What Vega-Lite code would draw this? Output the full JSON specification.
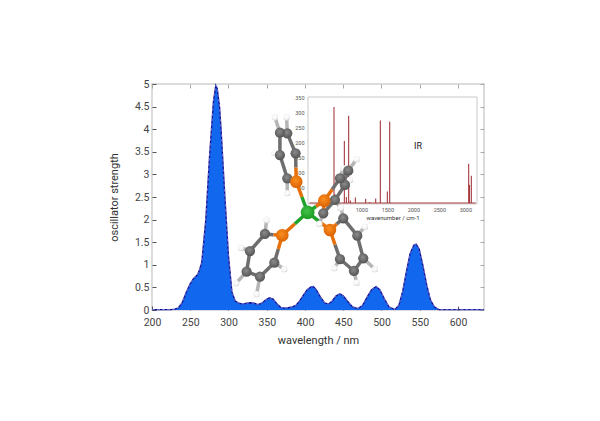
{
"$schema":"https://vega.github.io/schema/vega-lite/v6.json",
"autosize":{"type":"none"},
"padding":{"left":152,"top":84,"right":116,"bottom":111},
"width":332,"height":226,
"background":"white",
"view":{"stroke":"#cfcfcf","strokeWidth":1.5},
"config":{"axis":{"labelFont":"Roboto","titleFont":"Roboto","labelColor":"#444","titleColor":"#333","titleFontWeight":"normal","grid":false,"labelFlush":false}},
"datasets":{
"uv":[{"w":200,"s":0.01},{"w":224.7,"s":0.01},{"w":229.7,"s":0.02},{"w":234.6,"s":0.05},{"w":239.6,"s":0.17},{"w":244.5,"s":0.38},{"w":249.5,"s":0.57},{"w":254.4,"s":0.7},{"w":259.4,"s":0.78},{"w":261.3,"s":0.85},{"w":265,"s":1.05},{"w":270.3,"s":2.0},{"w":275.2,"s":3.4},{"w":280.2,"s":4.6},{"w":283.3,"s":4.97},{"w":285.3,"s":4.9},{"w":288.3,"s":4.5},{"w":290.3,"s":4.0},{"w":295,"s":2.6},{"w":300,"s":1.2},{"w":304.5,"s":0.4},{"w":308.8,"s":0.2},{"w":313.8,"s":0.15},{"w":318.7,"s":0.13},{"w":323.7,"s":0.15},{"w":328.6,"s":0.16},{"w":333.6,"s":0.15},{"w":338.5,"s":0.12},{"w":343.5,"s":0.15},{"w":348.4,"s":0.22},{"w":353.4,"s":0.27},{"w":358.3,"s":0.24},{"w":363.3,"s":0.14},{"w":368.2,"s":0.06},{"w":373.2,"s":0.04},{"w":378.1,"s":0.05},{"w":383.1,"s":0.07},{"w":388,"s":0.1},{"w":393,"s":0.2},{"w":397.9,"s":0.33},{"w":402.8,"s":0.45},{"w":407.8,"s":0.51},{"w":410.8,"s":0.52},{"w":414.7,"s":0.45},{"w":419.7,"s":0.3},{"w":425.6,"s":0.16},{"w":430.6,"s":0.13},{"w":435.5,"s":0.2},{"w":440.4,"s":0.31},{"w":445.4,"s":0.36},{"w":450.3,"s":0.31},{"w":455.3,"s":0.2},{"w":462.2,"s":0.07},{"w":469.1,"s":0.03},{"w":475.1,"s":0.1},{"w":481,"s":0.28},{"w":487,"s":0.45},{"w":492.9,"s":0.52},{"w":497.8,"s":0.45},{"w":503.8,"s":0.25},{"w":509.7,"s":0.07},{"w":517.6,"s":0.01},{"w":522.6,"s":0.1},{"w":527.5,"s":0.4},{"w":532.5,"s":0.85},{"w":537.4,"s":1.25},{"w":542.4,"s":1.44},{"w":545.3,"s":1.46},{"w":549.3,"s":1.35},{"w":554.2,"s":0.98},{"w":559.2,"s":0.55},{"w":564.1,"s":0.22},{"w":569.1,"s":0.07},{"w":575,"s":0.01},{"w":595.8,"s":0.01},{"w":634,"s":0.01}],
"ir":[{"n":474,"i":317},{"n":490,"i":30},{"n":673,"i":205},{"n":712,"i":20},{"n":756,"i":288},{"n":790,"i":8},{"n":885,"i":18},{"n":1083,"i":14},{"n":1160,"i":3},{"n":1276,"i":15},{"n":1365,"i":272},{"n":1500,"i":38},{"n":1545,"i":268},{"n":3064,"i":130},{"n":3080,"i":60},{"n":3115,"i":90}],
"irbase":[{"n":0,"n2":3200,"i":0}],
"frame":[{"n":-26,"n2":3224,"i":-3,"i2":350}],
"irlabel":[{"n":2090,"i":189,"t":"IR"}],
"bonds":[
{"x":378.7,"y":2.913,"x2":369,"y2":3.429,"k":"C"},{"x":369,"y":3.429,"x2":369,"y2":3.924,"k":"C"},{"x":369,"y":3.924,"x2":378.7,"y2":3.909,"k":"C"},{"x":378.7,"y":3.909,"x2":389.7,"y2":3.466,"k":"C"},
{"x":384.6,"y":2.876,"x2":378.7,"y2":2.913,"k":"C"},{"x":390.1,"y":3.15,"x2":389.7,"y2":3.466,"k":"C"},
{"x":390.6,"y":2.839,"x2":384.6,"y2":2.876,"k":"P"},{"x":390.6,"y":2.839,"x2":390.1,"y2":3.15,"k":"P"},
{"x":349.2,"y":1.682,"x2":329.4,"y2":1.305,"k":"C"},{"x":329.4,"y":1.305,"x2":325,"y2":0.848,"k":"C"},{"x":325,"y":0.848,"x2":342.6,"y2":0.737,"k":"C"},{"x":342.6,"y":0.737,"x2":361.6,"y2":1.047,"k":"C"},
{"x":360.6,"y":1.667,"x2":349.2,"y2":1.682,"k":"C"},{"x":366.9,"y":1.35,"x2":361.6,"y2":1.047,"k":"C"},
{"x":372.1,"y":1.652,"x2":360.6,"y2":1.667,"k":"P"},{"x":372.1,"y":1.652,"x2":366.9,"y2":1.35,"k":"P"},
{"x":452.7,"y":2.028,"x2":471.2,"y2":1.645,"k":"C"},{"x":471.2,"y":1.645,"x2":479.1,"y2":1.143,"k":"C"},{"x":479.1,"y":1.143,"x2":466.8,"y2":0.863,"k":"C"},{"x":466.8,"y":0.863,"x2":448.3,"y2":1.128,"k":"C"},
{"x":443.9,"y":1.9,"x2":452.7,"y2":2.028,"k":"C"},{"x":441.7,"y":1.45,"x2":448.3,"y2":1.128,"k":"C"},
{"x":435.1,"y":1.77,"x2":443.9,"y2":1.9,"k":"P"},{"x":435.1,"y":1.77,"x2":441.7,"y2":1.45,"k":"P"},
{"x":448.3,"y":2.913,"x2":459.3,"y2":3.083,"k":"C"},{"x":459.3,"y":3.083,"x2":454.9,"y2":2.766,"k":"C"},{"x":454.9,"y":2.766,"x2":441.7,"y2":2.434,"k":"C"},{"x":441.7,"y":2.434,"x2":426.3,"y2":2.139,"k":"C"},
{"x":438,"y":2.666,"x2":448.3,"y2":2.913,"k":"C"},
{"x":427.6,"y":2.419,"x2":438,"y2":2.666,"k":"P"},{"x":427.6,"y":2.419,"x2":426.3,"y2":2.139,"k":"P"},
{"x":390.6,"y":2.839,"x2":398.1,"y2":2.5,"k":"P"},{"x":398.1,"y":2.5,"x2":405.6,"y2":2.161,"k":"Ir"},
{"x":427.6,"y":2.419,"x2":416.6,"y2":2.29,"k":"P"},{"x":416.6,"y":2.29,"x2":405.6,"y2":2.161,"k":"Ir"},
{"x":372.1,"y":1.652,"x2":388.85,"y2":1.907,"k":"P"},{"x":388.85,"y":1.907,"x2":405.6,"y2":2.161,"k":"Ir"},
{"x":435.1,"y":1.77,"x2":420.35,"y2":1.965,"k":"P"},{"x":420.35,"y":1.965,"x2":405.6,"y2":2.161,"k":"Ir"},
{"x":369,"y":3.924,"x2":362.4,"y2":4.263,"k":"H"},{"x":378.7,"y":3.909,"x2":377.9,"y2":4.263,"k":"H"},{"x":369,"y":3.429,"x2":361.6,"y2":3.481,"k":"H"},{"x":378.7,"y":2.913,"x2":378.7,"y2":2.581,"k":"H"},
{"x":349.2,"y":1.682,"x2":351.4,"y2":1.991,"k":"H"},{"x":329.4,"y":1.305,"x2":317.5,"y2":1.379,"k":"H"},{"x":325,"y":0.848,"x2":310.9,"y2":0.59,"k":"H"},{"x":342.6,"y":0.737,"x2":338.2,"y2":0.347,"k":"H"},{"x":361.6,"y":1.047,"x2":374.8,"y2":0.9,"k":"H"},
{"x":452.7,"y":2.028,"x2":449.6,"y2":2.264,"k":"H"},{"x":471.2,"y":1.645,"x2":481.3,"y2":1.844,"k":"H"},{"x":479.1,"y":1.143,"x2":494.5,"y2":0.9,"k":"H"},{"x":466.8,"y":0.863,"x2":470.3,"y2":0.605,"k":"H"},{"x":448.3,"y":1.128,"x2":440.8,"y2":0.922,"k":"H"},
{"x":459.3,"y":3.083,"x2":470.3,"y2":3.334,"k":"H"},{"x":448.3,"y":2.913,"x2":452.7,"y2":3.134,"k":"H"},{"x":454.9,"y":2.766,"x2":461.5,"y2":2.876,"k":"H"},{"x":441.7,"y":2.434,"x2":449.2,"y2":2.249,"k":"H"},{"x":426.3,"y":2.139,"x2":421,"y2":1.903,"k":"H"}
],
"atoms":[
{"x":421,"y":1.903,"k":"H"},{"x":449.2,"y":2.249,"k":"H"},{"x":452.7,"y":3.134,"k":"H"},{"x":461.5,"y":2.876,"k":"H"},{"x":470.3,"y":3.334,"k":"H"},
{"x":362.4,"y":4.263,"k":"H"},{"x":377.9,"y":4.263,"k":"H"},{"x":361.6,"y":3.481,"k":"H"},{"x":378.7,"y":2.581,"k":"H"},
{"x":351.4,"y":1.991,"k":"H"},{"x":317.5,"y":1.379,"k":"H"},{"x":310.9,"y":0.59,"k":"H"},{"x":338.2,"y":0.347,"k":"H"},{"x":374.8,"y":0.9,"k":"H"},
{"x":449.6,"y":2.264,"k":"H"},{"x":481.3,"y":1.844,"k":"H"},{"x":494.5,"y":0.9,"k":"H"},{"x":470.3,"y":0.605,"k":"H"},{"x":440.8,"y":0.922,"k":"H"},
{"x":426.3,"y":2.139,"k":"C"},{"x":441.7,"y":2.434,"k":"C"},{"x":454.9,"y":2.766,"k":"C"},{"x":459.3,"y":3.083,"k":"C"},{"x":448.3,"y":2.913,"k":"C"},
{"x":378.7,"y":3.909,"k":"C"},{"x":389.7,"y":3.466,"k":"C"},{"x":369,"y":3.924,"k":"C"},{"x":369,"y":3.429,"k":"C"},{"x":378.7,"y":2.913,"k":"C"},
{"x":349.2,"y":1.682,"k":"C"},{"x":329.4,"y":1.305,"k":"C"},{"x":325,"y":0.848,"k":"C"},{"x":342.6,"y":0.737,"k":"C"},{"x":361.6,"y":1.047,"k":"C"},
{"x":452.7,"y":2.028,"k":"C"},{"x":471.2,"y":1.645,"k":"C"},{"x":479.1,"y":1.143,"k":"C"},{"x":466.8,"y":0.863,"k":"C"},{"x":448.3,"y":1.128,"k":"C"},
{"x":427.6,"y":2.419,"k":"P"},{"x":390.6,"y":2.839,"k":"P"},{"x":372.1,"y":1.652,"k":"P"},{"x":435.1,"y":1.77,"k":"P"},
{"x":405.6,"y":2.161,"k":"Ir"}
]
},
"data":{"name":"uv"},
"encoding":{
"x":{"field":"w","type":"quantitative","scale":{"domain":[200,634],"nice":false},"axis":null},
"y":{"field":"s","type":"quantitative","scale":{"domain":[0,5],"nice":false},"axis":null}
},
"layer":[
{"mark":{"type":"area","color":"#1168ee"},
 "encoding":{
 "x":{"field":"w","type":"quantitative","scale":{"domain":[200,634],"nice":false},"axis":{"orient":"bottom","values":[200,250,300,350,400,450,500,550,600],"tickSize":-4,"tickColor":"#555","domain":false,"labelFontSize":10.5,"labelPadding":11,"title":"wavelength / nm","titleFontSize":11,"titleFontWeight":"normal","titlePadding":7}},
 "y":{"field":"s","type":"quantitative","scale":{"domain":[0,5],"nice":false},"axis":{"orient":"left","values":[0,0.5,1,1.5,2,2.5,3,3.5,4,4.5,5],"format":"~g","tickSize":-4,"tickColor":"#555","domain":false,"labelFontSize":10.5,"labelPadding":7,"title":"oscillator strength","titleFontSize":11,"titleFontWeight":"normal","titlePadding":15}}
 }},
{"mark":{"type":"line","color":"#0a0a9a","strokeWidth":1.3},
 "encoding":{
 "x":{"field":"w","type":"quantitative","scale":{"domain":[200,634],"nice":false},"axis":{"orient":"top","values":[200,250,300,350,400,450,500,550,600],"tickSize":-4,"tickColor":"#aaa","domain":false,"labels":false,"title":null}},
 "y":{"field":"s","type":"quantitative","scale":{"domain":[0,5],"nice":false},"axis":{"orient":"right","values":[0,0.5,1,1.5,2,2.5,3,3.5,4,4.5,5],"tickSize":-4,"tickColor":"#aaa","domain":false,"labels":false,"title":null}}
 }},
{"mark":{"type":"line","color":"white","strokeWidth":0.5,"strokeDash":[3,2],"opacity":0.8}},
{"data":{"name":"frame"},"mark":{"type":"rect","fill":"white","stroke":"#bbbbbb","strokeWidth":0.8},
 "encoding":{
 "x":{"field":"n","type":"quantitative","scale":{"domain":[-26,3224],"nice":false,"range":[156,325]},"axis":null},
 "x2":{"field":"n2"},
 "y":{"field":"i","type":"quantitative","scale":{"domain":[0,350],"nice":false,"range":[119,13]},"axis":null},
 "y2":{"field":"i2"}
 }},
{"data":{"name":"ir"},"mark":{"type":"rule","color":"#a5393f","strokeWidth":1.1},
 "encoding":{
 "x":{"field":"n","type":"quantitative","scale":{"domain":[-26,3224],"nice":false,"range":[156,325]},"axis":{"orient":"bottom","offset":-106,"values":[1000,1500,2000,2500,3000],"format":"d","domain":false,"tickSize":0,"labelFontSize":5.5,"labelPadding":3,"labelColor":"#555","title":"wavenumber / cm-1","titleFontSize":6,"titleFontWeight":"normal","titlePadding":2}},
 "y":{"field":"i","type":"quantitative","scale":{"domain":[0,350],"nice":false,"range":[119,13]},"axis":{"orient":"left","offset":-155,"values":[50,100,150,200,250,300,350],"domain":false,"tickSize":0,"labelFontSize":5.5,"labelPadding":3,"labelColor":"#555","title":null}},
 "y2":{"datum":0}
 }},
{"data":{"name":"irbase"},"mark":{"type":"rule","color":"#a5393f","strokeWidth":1},
 "encoding":{
 "x":{"field":"n","type":"quantitative","scale":{"domain":[-26,3224],"nice":false,"range":[156,325]},"axis":null},
 "x2":{"field":"n2"},
 "y":{"field":"i","type":"quantitative","scale":{"domain":[0,350],"nice":false,"range":[119,13]},"axis":null}
 }},
{"data":{"name":"irlabel"},"mark":{"type":"text","font":"Roboto","fontSize":9,"color":"#222"},
 "encoding":{
 "x":{"field":"n","type":"quantitative","scale":{"domain":[-26,3224],"nice":false,"range":[156,325]},"axis":null},
 "y":{"field":"i","type":"quantitative","scale":{"domain":[0,350],"nice":false,"range":[119,13]},"axis":null},
 "text":{"field":"t"}
 }},
{"data":{"name":"bonds"},"mark":{"type":"rule","strokeWidth":3.5},
 "encoding":{
 "x":{"field":"x","type":"quantitative","scale":{"domain":[200,638.6],"nice":false},"axis":null},
 "x2":{"field":"x2"},
 "y":{"field":"y","type":"quantitative","scale":{"domain":[0,5],"nice":false},"axis":null},
 "y2":{"field":"y2"},
 "color":{"field":"k","type":"nominal","legend":null,"scale":{"domain":["C","H","P","Ir"],"range":["#6e6e6e","#b5b5b5","#e8700a","#1fa32a"]}}
 }},
{"data":{"name":"atoms"},"transform":[{"filter":"datum.k=='H'"}],"mark":{"type":"point","filled":true,"opacity":1,"size":42,"fill":{"gradient":"radial","x1":0.45,"y1":0.4,"x2":0.45,"y2":0.4,"r1":0,"r2":0.65,"stops":[{"offset":0,"color":"#ffffff"},{"offset":0.7,"color":"#f2f2f2"},{"offset":1,"color":"#bdbdbd"}]}},
 "encoding":{"x":{"field":"x","type":"quantitative","scale":{"domain":[200,638.6],"nice":false},"axis":null},"y":{"field":"y","type":"quantitative","scale":{"domain":[0,5],"nice":false},"axis":null}}},
{"data":{"name":"atoms"},"transform":[{"filter":"datum.k=='C'"}],"mark":{"type":"point","filled":true,"opacity":1,"size":105,"fill":{"gradient":"radial","x1":0.45,"y1":0.4,"x2":0.45,"y2":0.4,"r1":0,"r2":0.65,"stops":[{"offset":0,"color":"#8c8c8c"},{"offset":1,"color":"#4f4f4f"}]}},
 "encoding":{"x":{"field":"x","type":"quantitative","scale":{"domain":[200,638.6],"nice":false},"axis":null},"y":{"field":"y","type":"quantitative","scale":{"domain":[0,5],"nice":false},"axis":null}}},
{"data":{"name":"atoms"},"transform":[{"filter":"datum.k=='P'"}],"mark":{"type":"point","filled":true,"opacity":1,"size":160,"fill":{"gradient":"radial","x1":0.45,"y1":0.4,"x2":0.45,"y2":0.4,"r1":0,"r2":0.65,"stops":[{"offset":0,"color":"#fb8f20"},{"offset":1,"color":"#d85f00"}]}},
 "encoding":{"x":{"field":"x","type":"quantitative","scale":{"domain":[200,638.6],"nice":false},"axis":null},"y":{"field":"y","type":"quantitative","scale":{"domain":[0,5],"nice":false},"axis":null}}},
{"data":{"name":"atoms"},"transform":[{"filter":"datum.k=='Ir'"}],"mark":{"type":"point","filled":true,"opacity":1,"size":190,"fill":{"gradient":"radial","x1":0.45,"y1":0.4,"x2":0.45,"y2":0.4,"r1":0,"r2":0.65,"stops":[{"offset":0,"color":"#45c24a"},{"offset":1,"color":"#159a20"}]}},
 "encoding":{"x":{"field":"x","type":"quantitative","scale":{"domain":[200,638.6],"nice":false},"axis":null},"y":{"field":"y","type":"quantitative","scale":{"domain":[0,5],"nice":false},"axis":null}}}
],
"resolve":{"scale":{"x":"independent","y":"independent","color":"independent"},"axis":{"x":"independent","y":"independent"}}
}
